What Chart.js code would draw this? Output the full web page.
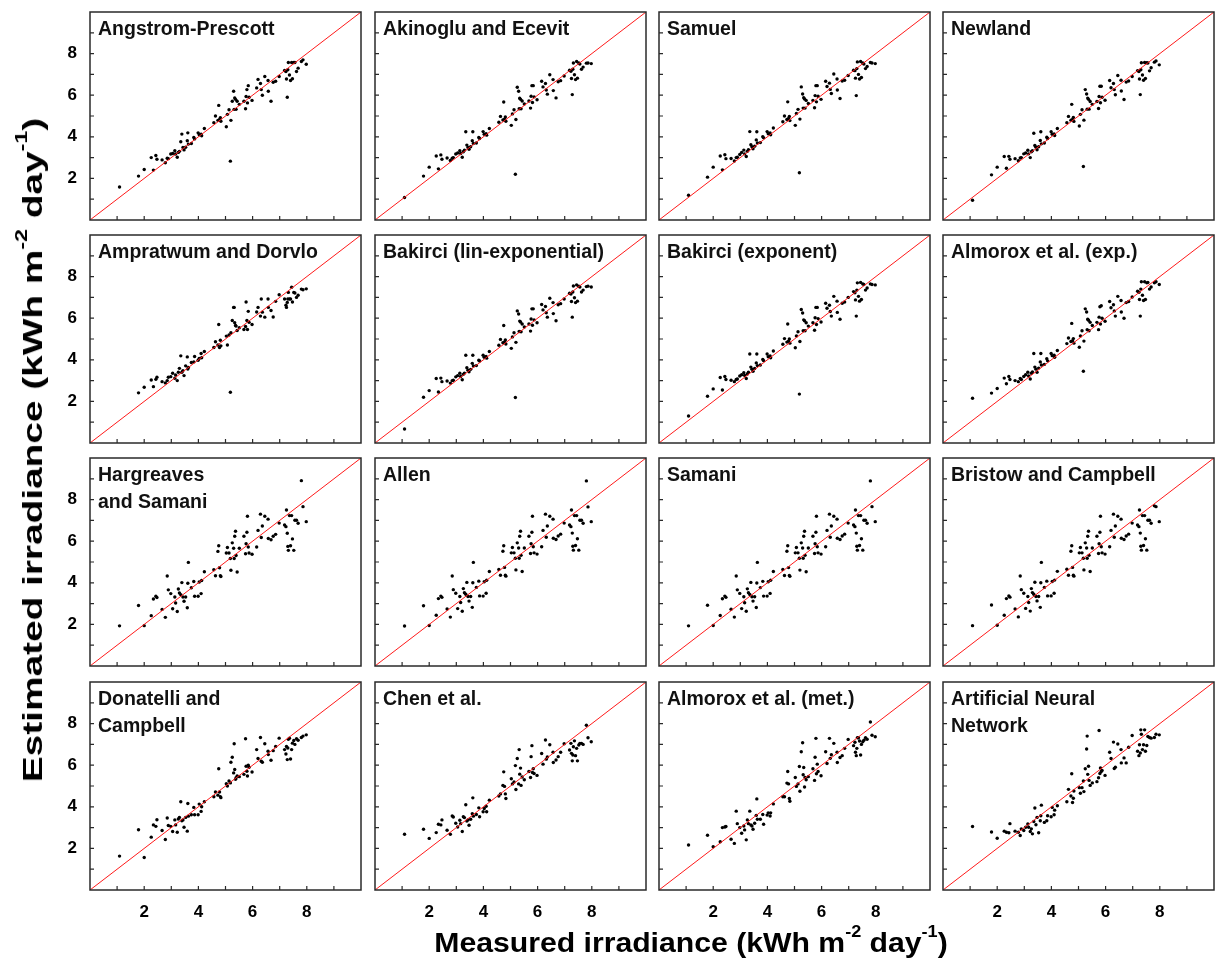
<!DOCTYPE html>
<html>
<head>
<meta charset="utf-8">
<script src="https://cdn.jsdelivr.net/npm/chart.js@4.4.1/dist/chart.umd.min.js"></script>
<style>
  body { margin: 0; background: #fff; }
  #wrap { position: relative; width: 1218px; height: 972px; overflow: hidden; font-family: "Liberation Sans", Arial, sans-serif; }
  canvas { position: absolute; }
  .lbl { position: absolute; font-weight: bold; font-size: 19.5px; line-height: 27px; white-space: pre; color: #111; }
  .axt { position: absolute; font-weight: bold; font-size: 28px; line-height: 28px; white-space: nowrap; color: #000; }
  .axt span { font-size: 0.6em; position: relative; top: -0.9em; }
</style>
</head>
<body>
<div id="wrap"></div>
<script>
// measured daily irradiance (same for every panel)
var measured = [1.09, 1.79, 2.00, 2.26, 2.34, 2.43, 2.47, 2.66, 2.78, 2.85,
  2.89, 2.98, 3.05, 3.13, 3.16, 3.22, 3.26, 3.30, 3.35, 3.39,
  3.43, 3.47, 3.53, 3.59, 3.61, 3.63, 3.74, 3.83, 3.86, 3.99,
  4.03, 4.10, 4.12, 4.22, 4.57, 4.63, 4.72, 4.75, 4.78, 4.81,
  4.83, 5.03, 5.07, 5.13, 5.20, 5.18, 5.25, 5.30, 5.32, 5.34,
  5.37, 5.39, 5.43, 5.51, 5.68, 5.74, 5.76, 5.79, 5.81, 5.84,
  5.87, 5.98, 6.15, 6.20, 6.29, 6.32, 6.36, 6.45, 6.57, 6.58,
  6.68, 6.76, 6.85, 6.98, 7.18, 7.23, 7.25, 7.28, 7.30, 7.32,
  7.36, 7.40, 7.44, 7.47, 7.52, 7.56, 7.62, 7.68, 7.80, 7.86,
  7.98];

var angstromPrescott = [1.59, 2.11, 2.43, 3.00, 2.40, 3.10, 2.92, 2.89, 2.75, 2.97,
  2.95, 3.17, 3.20, 3.33, 3.17, 3.02, 3.25, 3.30, 3.76, 4.13,
  3.49, 3.37, 3.50, 3.81, 4.19, 3.65, 3.68, 3.97, 3.90, 4.19,
  4.10, 4.13, 4.05, 4.40, 4.68, 5.00, 4.79, 5.51, 4.83, 4.92,
  4.75, 4.48, 5.08, 5.30, 4.79, 2.83, 5.71, 6.19, 5.32, 5.87,
  5.80, 5.32, 5.71, 5.56, 5.71, 5.35, 5.94, 6.27, 5.63, 6.46,
  5.90, 5.75, 6.35, 6.76, 6.56, 6.27, 6.00, 6.90, 6.71, 6.19,
  5.71, 6.62, 6.67, 6.90, 7.19, 7.14, 6.78, 5.90, 7.22, 7.57,
  6.97, 6.71, 7.57, 6.79, 7.57, 7.57, 7.14, 7.30, 7.62, 7.70,
  7.49];

var akinogluEcevit = [1.08, 2.11, 2.54, 3.08, 2.46, 3.13, 2.92, 2.98, 2.86, 2.97,
  3.00, 3.17, 3.22, 3.33, 3.20, 3.02, 3.28, 3.35, 4.24, 3.60,
  3.49, 3.40, 3.52, 3.81, 4.24, 3.68, 3.70, 3.97, 3.92, 4.25,
  4.12, 4.15, 4.08, 4.40, 4.70, 4.98, 4.81, 5.67, 4.85, 4.95,
  4.75, 4.55, 5.10, 5.30, 4.83, 2.20, 6.38, 6.19, 5.35, 5.85,
  5.80, 5.35, 5.72, 5.58, 5.72, 5.38, 5.95, 6.46, 5.65, 6.46,
  5.92, 5.78, 6.67, 6.40, 6.56, 6.25, 6.05, 6.98, 6.75, 6.22,
  5.87, 6.65, 6.70, 6.92, 7.20, 7.15, 6.80, 6.03, 7.25, 7.55,
  6.98, 6.75, 7.62, 6.82, 7.55, 7.50, 7.25, 7.35, 7.54, 7.55,
  7.52];

var samuel = [1.19, 2.06, 2.54, 3.08, 2.41, 3.14, 2.95, 2.96, 2.84, 3.00,
  3.02, 3.15, 3.25, 3.36, 3.18, 3.05, 3.30, 3.38, 4.25, 3.62,
  3.52, 3.42, 3.55, 3.85, 4.24, 3.70, 3.72, 4.00, 3.95, 4.25,
  4.15, 4.18, 4.10, 4.42, 4.72, 5.00, 4.83, 5.68, 4.88, 4.98,
  4.78, 4.55, 5.12, 5.32, 4.85, 2.27, 6.40, 6.06, 5.38, 5.88,
  5.82, 5.38, 5.75, 5.60, 5.75, 5.40, 5.98, 6.46, 5.68, 6.46,
  5.95, 5.80, 6.67, 6.42, 6.58, 6.28, 6.08, 7.02, 6.78, 6.25,
  5.84, 6.68, 6.72, 6.95, 7.20, 7.18, 6.82, 5.98, 7.28, 7.60,
  7.00, 6.78, 7.62, 6.85, 7.55, 7.50, 7.28, 7.38, 7.57, 7.55,
  7.52];

var newland = [0.95, 2.17, 2.54, 3.05, 2.49, 3.06, 2.92, 2.95, 2.85, 2.98,
  3.00, 3.18, 3.22, 3.35, 3.18, 3.00, 3.28, 3.33, 4.17, 3.58,
  3.50, 3.38, 3.52, 3.82, 4.24, 3.66, 3.70, 3.98, 3.92, 4.24,
  4.12, 4.14, 4.06, 4.40, 4.68, 4.98, 4.80, 5.56, 4.84, 4.93,
  4.74, 4.52, 5.08, 5.30, 4.80, 2.57, 6.27, 6.06, 5.33, 5.86,
  5.80, 5.33, 5.70, 5.56, 5.70, 5.36, 5.94, 6.43, 5.64, 6.43,
  5.90, 5.76, 6.71, 6.36, 6.56, 6.27, 6.02, 6.95, 6.72, 6.20,
  5.79, 6.63, 6.68, 6.90, 7.18, 7.14, 6.78, 6.03, 7.22, 7.56,
  6.97, 6.72, 7.57, 6.80, 7.56, 7.55, 7.17, 7.32, 7.59, 7.65,
  7.46];

var ampratwumDorvlo = [null, 2.41, 2.68, 3.03, 2.71, 3.06, 3.16, 2.95, 2.89, 3.00,
  3.16, 3.19, 3.35, 3.11, 3.27, 3.00, 3.40, 3.59, 4.19, 3.40,
  3.48, 3.24, 3.71, 4.14, 3.56, 3.63, 3.87, 3.90, 4.16, 3.98,
  4.06, 4.30, 4.10, 4.40, 4.59, 4.87, 4.71, 5.70, 4.59, 4.94,
  4.67, 5.14, 4.71, 5.19, 5.30, 2.44, 5.89, 6.52, 6.52, 5.78,
  5.65, 5.62, 5.41, 5.54, 5.46, 5.60, 6.78, 5.89, 5.46, 6.33,
  5.80, 5.70, 6.30, 6.52, 6.10, 6.92, 6.29, 6.05, 6.92, 6.52,
  6.37, 6.06, 6.81, 7.13, 6.92, 6.62, 6.52, 6.76, 6.92, 7.24,
  6.92, 6.92, 7.49, 6.78, 7.24, 7.21, 7.00, 7.10, 7.40, 7.37,
  7.41];

var bakirciLinExp = [0.67, 2.20, 2.52, 3.10, 2.45, 3.12, 2.95, 2.98, 2.88, 3.00,
  3.02, 3.18, 3.24, 3.35, 3.20, 3.04, 3.30, 3.36, 4.22, 3.62,
  3.50, 3.42, 3.54, 3.83, 4.22, 3.70, 3.72, 3.98, 3.94, 4.22,
  4.12, 4.16, 4.08, 4.40, 4.70, 4.98, 4.82, 5.65, 4.86, 4.95,
  4.76, 4.55, 5.10, 5.30, 4.84, 2.19, 6.35, 6.20, 5.36, 5.86,
  5.82, 5.35, 5.72, 5.58, 5.72, 5.38, 5.96, 6.45, 5.66, 6.45,
  5.92, 5.78, 6.66, 6.40, 6.56, 6.26, 6.05, 6.96, 6.75, 6.22,
  5.88, 6.65, 6.70, 6.92, 7.20, 7.16, 6.80, 6.05, 7.26, 7.55,
  6.98, 6.75, 7.60, 6.82, 7.54, 7.50, 7.26, 7.35, 7.52, 7.54,
  7.50];

var bakirciExponent = [1.30, 2.25, 2.60, 3.15, 2.55, 3.20, 3.05, 3.02, 2.95, 3.05,
  3.08, 3.22, 3.28, 3.38, 3.25, 3.10, 3.32, 3.40, 4.28, 3.65,
  3.55, 3.45, 3.58, 3.85, 4.28, 3.72, 3.75, 4.02, 3.96, 4.28,
  4.15, 4.18, 4.10, 4.42, 4.75, 5.02, 4.85, 5.72, 4.90, 5.00,
  4.80, 4.58, 5.15, 5.35, 4.88, 2.35, 6.42, 6.25, 5.40, 5.92,
  5.88, 5.40, 5.78, 5.62, 5.78, 5.42, 6.02, 6.52, 5.70, 6.52,
  5.98, 5.82, 6.72, 6.48, 6.62, 6.32, 6.10, 7.05, 6.82, 6.28,
  5.95, 6.72, 6.78, 7.00, 7.28, 7.22, 6.88, 6.10, 7.35, 7.70,
  7.05, 6.82, 7.72, 6.90, 7.65, 7.62, 7.35, 7.45, 7.65, 7.62,
  7.60];

var almoroxExp = [2.15, 2.40, 2.62, 3.12, 2.85, 3.20, 3.05, 3.00, 2.95, 3.10,
  3.05, 3.20, 3.28, 3.40, 3.22, 3.08, 3.35, 3.42, 4.30, 3.65,
  3.55, 3.40, 3.60, 3.90, 4.30, 3.75, 3.78, 4.05, 3.95, 4.30,
  4.20, 4.22, 4.12, 4.45, 4.78, 5.05, 4.88, 5.75, 4.92, 5.02,
  4.80, 4.60, 5.15, 5.40, 4.90, 3.45, 6.45, 6.30, 5.45, 5.95,
  5.90, 5.40, 5.80, 5.65, 5.80, 5.45, 6.05, 6.55, 5.72, 6.60,
  6.00, 5.85, 6.80, 6.50, 6.65, 6.35, 6.10, 7.05, 6.85, 6.30,
  6.00, 6.75, 6.80, 7.02, 7.30, 7.25, 6.90, 6.10, 7.40, 7.75,
  7.10, 6.85, 7.75, 6.90, 7.70, 7.72, 7.40, 7.50, 7.70, 7.75,
  7.62];

var hargreavesSamani = [1.93, 2.91, 1.94, 2.42, 3.22, 3.35, 3.29, 2.72, 2.34, 4.33,
  3.66, 3.48, 2.75, 3.32, 3.03, 2.62, 3.70, 3.51, 3.43, 4.01,
  3.32, 3.11, 3.32, 2.80, 3.98, 4.98, 3.76, 4.06, 3.35, 3.35,
  4.04, 3.48, 4.11, 4.53, 4.63, 4.34, 5.51, 5.78, 4.72, 4.34,
  4.30, 5.43, 5.70, 5.43, 4.60, 5.17, 5.92, 5.66, 5.17, 6.24,
  6.48, 5.31, 4.52, 5.66, 6.24, 5.40, 5.88, 6.43, 7.20, 5.72,
  5.43, 5.37, 5.72, 6.52, 7.30, 6.18, 6.73, 7.20, 7.06, 6.13,
  6.07, 6.24, 6.33, 6.87, 6.78, 6.70, 7.50, 6.38, 5.75, 5.56,
  7.23, 5.78, 7.23, 6.11, 5.56, 7.01, 7.01, 6.86, 8.91, 7.66,
  6.94];

var allen = [1.92, 2.90, 1.95, 2.44, 3.24, 3.36, 3.30, 2.74, 2.35, 4.33,
  3.67, 3.50, 2.76, 3.34, 3.05, 2.63, 3.72, 3.52, 3.45, 4.02,
  3.34, 3.12, 3.34, 2.82, 4.00, 4.98, 3.78, 4.08, 3.37, 3.36,
  4.05, 3.50, 4.12, 4.54, 4.64, 4.36, 5.52, 5.78, 4.74, 4.36,
  4.32, 5.44, 5.70, 5.44, 4.62, 5.18, 5.92, 5.67, 5.18, 6.24,
  6.48, 5.32, 4.54, 5.67, 6.24, 5.41, 5.88, 6.43, 7.20, 5.73,
  5.44, 5.38, 5.73, 6.52, 7.30, 6.19, 6.73, 7.20, 7.06, 6.14,
  6.08, 6.25, 6.34, 6.87, 6.78, 6.70, 7.50, 6.39, 5.76, 5.57,
  7.23, 5.79, 7.23, 6.12, 5.57, 7.01, 7.01, 6.86, 8.90, 7.65,
  6.94];

var samani = [1.93, 2.92, 1.95, 2.43, 3.23, 3.36, 3.30, 2.73, 2.35, 4.33,
  3.66, 3.49, 2.76, 3.33, 3.04, 2.63, 3.71, 3.52, 3.44, 4.02,
  3.33, 3.12, 3.33, 2.81, 3.99, 4.98, 3.77, 4.07, 3.36, 3.36,
  4.05, 3.49, 4.12, 4.54, 4.64, 4.35, 5.52, 5.78, 4.73, 4.35,
  4.31, 5.44, 5.70, 5.44, 4.61, 5.18, 5.92, 5.67, 5.18, 6.24,
  6.48, 5.32, 4.53, 5.67, 6.24, 5.41, 5.88, 6.43, 7.20, 5.73,
  5.44, 5.38, 5.73, 6.52, 7.30, 6.19, 6.73, 7.20, 7.06, 6.14,
  6.08, 6.25, 6.34, 6.87, 6.78, 6.70, 7.50, 6.39, 5.76, 5.57,
  7.23, 5.79, 7.23, 6.12, 5.57, 7.01, 7.01, 6.86, 8.90, 7.66,
  6.94];

var bristowCampbell = [1.94, 2.93, 1.96, 2.44, 3.24, 3.37, 3.31, 2.74, 2.36, 4.33,
  3.67, 3.50, 2.77, 3.34, 3.05, 2.64, 3.72, 3.53, 3.45, 4.03,
  3.34, 3.13, 3.34, 2.82, 4.00, 4.98, 3.78, 4.08, 3.37, 3.37,
  4.06, 3.50, 4.13, 4.55, 4.65, 4.36, 5.52, 5.78, 4.74, 4.36,
  4.32, 5.44, 5.70, 5.44, 4.62, 5.18, 5.92, 5.67, 5.18, 6.24,
  6.48, 5.32, 4.54, 5.67, 6.24, 5.41, 5.88, 6.43, 7.20, 5.73,
  5.44, 5.38, 5.73, 6.52, 7.30, 6.19, 6.73, 7.20, 7.06, 6.14,
  6.08, 6.25, 6.34, 6.87, 6.78, 6.70, 7.50, 6.39, 5.76, 5.57,
  7.23, 5.79, 7.23, 6.12, 5.57, 7.01, 7.01, 6.86, 7.70, 7.66,
  6.94];

var donatelliCampbell = [1.63, 2.90, 1.56, 2.54, 3.13, 3.06, 3.38, 2.86, 2.43, 3.46,
  3.10, 3.06, 2.81, 3.37, 3.13, 2.78, 3.41, 3.49, 4.24, 3.33,
  3.37, 3.02, 3.49, 2.83, 4.16, 3.55, 3.62, 3.97, 3.62, 3.62,
  4.13, 3.78, 4.00, 4.24, 4.48, 4.71, 4.56, 5.83, 4.71, 4.49,
  4.44, 5.11, 5.00, 5.24, 6.14, 5.15, 6.38, 5.63, 7.03, 5.79,
  5.32, 5.40, 5.48, 5.45, 5.56, 7.27, 5.95, 5.71, 5.48, 6.00,
  5.90, 5.67, 6.75, 6.32, 7.33, 6.19, 6.14, 7.03, 6.67, 6.51,
  6.24, 6.70, 6.90, 7.30, 6.75, 6.54, 6.90, 6.27, 6.83, 7.25,
  7.30, 6.30, 6.75, 7.06, 7.19, 7.00, 7.27, 7.20, 7.33, 7.40,
  7.46];

var chen = [2.68, 2.92, 2.48, 2.76, 3.16, 3.13, 3.37, 2.87, 2.68, 3.56,
  3.51, 3.21, 3.03, 3.35, 3.19, 2.81, 3.52, 3.48, 4.10, 3.32,
  3.37, 3.11, 3.40, 3.67, 4.43, 3.55, 3.63, 3.95, 3.52, 3.76,
  3.92, 4.03, 3.76, 4.32, 4.52, 4.62, 5.03, 5.68, 4.98, 4.62,
  4.40, 5.35, 5.10, 5.19, 4.83, 5.98, 6.32, 5.10, 6.75, 5.57,
  5.86, 5.03, 5.43, 5.30, 5.70, 5.41, 6.41, 6.94, 5.65, 5.83,
  5.60, 5.51, 6.56, 6.05, 7.21, 6.29, 6.40, 6.98, 6.62, 6.13,
  6.25, 6.41, 6.62, 7.03, 6.73, 7.05, 6.57, 6.21, 6.49, 6.89,
  7.17, 6.46, 6.81, 6.21, 6.97, 7.05, 7.05, 7.00, 7.92, 7.32,
  7.13];

var almoroxMet = [2.16, 2.63, 2.08, 2.32, 3.00, 3.03, 3.05, 2.44, 2.24, 3.79,
  3.19, 3.00, 2.73, 3.08, 2.89, 2.41, 3.37, 3.19, 3.79, 3.13,
  3.08, 2.92, 3.21, 3.59, 4.38, 3.40, 3.40, 3.63, 3.16, 3.60,
  3.71, 3.56, 3.71, 4.14, 4.48, 4.48, 5.14, 5.70, 5.10, 4.40,
  4.27, 5.41, 4.98, 5.10, 4.75, 5.94, 6.65, 7.08, 5.54, 5.89,
  4.95, 5.41, 5.30, 5.45, 5.83, 5.27, 6.38, 7.29, 5.59, 6.05,
  5.70, 5.49, 6.65, 6.08, 7.29, 6.33, 6.50, 7.05, 6.62, 6.13,
  6.37, 6.46, 6.81, 7.24, 6.94, 7.10, 6.62, 6.46, 6.81, 7.32,
  7.32, 7.16, 6.49, 7.00, 7.13, 7.20, 7.32, 7.25, 8.08, 7.44,
  7.37];

var neuralNetwork = [3.05, 2.79, 2.49, 2.83, 2.78, 2.75, 3.19, 2.83, 2.78, 2.62,
  2.94, 2.86, 3.02, 3.17, 3.02, 2.81, 2.94, 2.70, 3.29, 3.94,
  3.14, 3.49, 2.75, 3.33, 3.57, 4.08, 3.25, 3.33, 3.57, 3.52,
  3.97, 3.62, 3.84, 4.05, 4.24, 4.84, 4.52, 5.59, 4.21, 4.41,
  4.76, 4.92, 4.65, 4.92, 4.73, 5.24, 5.83, 6.78, 7.40, 5.56,
  5.95, 5.27, 5.03, 5.15, 5.21, 5.40, 7.67, 5.60, 5.87, 5.70,
  5.75, 5.51, 6.62, 6.32, 7.11, 5.84, 5.90, 7.02, 6.75, 6.11,
  6.35, 6.11, 6.86, 7.43, 6.67, 6.46, 6.98, 6.59, 7.70, 7.49,
  6.75, 6.98, 7.70, 6.67, 6.95, 7.38, 7.33, 7.30, 7.33, 7.49,
  7.46];

var modelNames = ["Angstrom-Prescott", "Akinoglu and Ecevit", "Samuel", "Newland",
  "Ampratwum and Dorvlo", "Bakirci (lin-exponential)", "Bakirci (exponent)", "Almorox et al. (exp.)",
  "Hargreaves\nand Samani", "Allen", "Samani", "Bristow and Campbell",
  "Donatelli and\nCampbell", "Chen et al.", "Almorox et al. (met.)", "Artificial Neural\nNetwork"];

var estimates = [angstromPrescott, akinogluEcevit, samuel, newland,
  ampratwumDorvlo, bakirciLinExp, bakirciExponent, almoroxExp,
  hargreavesSamani, allen, samani, bristowCampbell,
  donatelliCampbell, chen, almoroxMet, neuralNetwork];

var tickLabels = [2, 4, 6, 8];

// layout of the 4x4 grid
var colLeft = [90, 375, 659, 943];
var rowTop = [10, 233, 456, 680];
var panelW = 273, panelH = 210;
var padL = 45, padB = 35, padT = 2, padR = 2;

var tickFont = { family: '"Liberation Sans", Arial, sans-serif', size: 17, weight: 'bold' };

// box around the plot and short inward ticks on left/bottom
var framePlugin = {
  id: 'frame',
  afterDraw: function(chart) {
    var c = chart.ctx, a = chart.chartArea;
    var xs = chart.scales.x, ys = chart.scales.y;
    c.save();
    c.strokeStyle = '#2a2a2a';
    c.lineWidth = 1.5;
    c.strokeRect(a.left, a.top, a.right - a.left, a.bottom - a.top);
    c.lineWidth = 1.2;
    c.beginPath();
    for (var v = 1; v < 10; v++) {
      var px = xs.getPixelForValue(v);
      c.moveTo(px, a.bottom);
      c.lineTo(px, a.bottom - 4);
      var py = ys.getPixelForValue(v);
      c.moveTo(a.left, py);
      c.lineTo(a.left + 4, py);
    }
    c.stroke();
    c.restore();
  }
};

var wrap = document.getElementById('wrap');

estimates.forEach(function(est, i) {
  var col = i % 4, row = Math.floor(i / 4);
  var cv = document.createElement('canvas');
  var w = panelW + padL + padR, h = panelH + padT + padB;
  cv.width = w; cv.height = h;
  cv.style.left = (colLeft[col] - padL) + 'px';
  cv.style.top = (rowTop[row] - padT) + 'px';
  cv.style.width = w + 'px'; cv.style.height = h + 'px';
  wrap.appendChild(cv);

  var pts = measured.map(function(x, k) { return { x: x, y: est[k] }; });

  new Chart(cv.getContext('2d'), {
    type: 'scatter',
    data: {
      datasets: [{
          type: 'line',
          data: [{ x: 0, y: 0 }, { x: 10, y: 10 }],
          borderColor: '#ff1a1a',
          borderWidth: 1,
          pointRadius: 0,
          fill: false
        },
        {
          data: pts,
          pointRadius: 1.7,
          backgroundColor: '#000',
          borderWidth: 0
        }
      ]
    },
    options: {
      responsive: false,
      animation: false,
      events: [],
      layout: { padding: { top: padT, right: padR, left: 0, bottom: 0 } },
      plugins: { legend: { display: false }, tooltip: { enabled: false } },
      scales: {
        x: {
          type: 'linear', min: 0, max: 10,
          grid: { display: false }, border: { display: false },
          afterFit: function(s) { s.height = padB; s.paddingLeft = 0; s.paddingRight = 0; },
          ticks: {
            stepSize: 1, autoSkip: false, maxRotation: 0, padding: 4,
            color: '#000', font: tickFont,
            callback: function(v) { return (row === 3 && tickLabels.indexOf(v) >= 0) ? v : ''; }
          }
        },
        y: {
          type: 'linear', min: 0, max: 10,
          grid: { display: false }, border: { display: false },
          afterFit: function(s) { s.width = padL; s.paddingTop = 0; s.paddingBottom = 0; },
          ticks: {
            stepSize: 1, autoSkip: false, padding: 5,
            color: '#000', font: tickFont,
            callback: function(v) { return (col === 0 && tickLabels.indexOf(v) >= 0) ? v : ''; }
          }
        }
      }
    },
    plugins: [framePlugin]
  });

  var lb = document.createElement('div');
  lb.className = 'lbl';
  lb.textContent = modelNames[i];
  lb.style.left = (colLeft[col] + 8) + 'px';
  lb.style.top = (rowTop[row] + 5) + 'px';
  wrap.appendChild(lb);
});

// axis titles
var xt = document.createElement('div');
xt.className = 'axt';
xt.innerHTML = 'Measured irradiance (kWh m<span>-2</span> day<span>-1</span>)';
wrap.appendChild(xt);
var xk = 513 / xt.offsetWidth;
xt.style.left = '691px';
xt.style.top = '929px';
xt.style.transform = 'translateX(-50%) scaleX(' + xk + ')';

var yt = document.createElement('div');
yt.className = 'axt';
yt.innerHTML = 'Estimated irradiance (kWh m<span>-2</span> day<span>-1</span>)';
wrap.appendChild(yt);
var yk = 665 / yt.offsetWidth;
yt.style.left = '35px';
yt.style.top = '450px';
yt.style.transform = 'translate(-50%, -50%) rotate(-90deg) scaleX(' + yk + ')';
</script>
</body>
</html>
